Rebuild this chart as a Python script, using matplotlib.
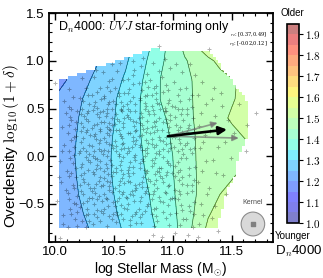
import numpy as np
import matplotlib
matplotlib.use('Agg')
import matplotlib.pyplot as plt
from matplotlib.path import Path
from matplotlib.patches import Ellipse
from matplotlib.ticker import MultipleLocator, FuncFormatter

plt.rcParams['font.family'] = ['Liberation Sans', 'DejaVu Sans']
plt.rcParams['mathtext.fontset'] = 'cm'

# ---------------- data ----------------
grid_mass = [10.0, 10.1, 10.2, 10.3, 10.4, 10.5, 10.6, 10.7, 10.8, 10.9,
             11.0, 11.1, 11.2, 11.3, 11.4, 11.5, 11.6, 11.7]
grid_delta = [-0.8, -0.6, -0.4, -0.2, 0.0, 0.2, 0.4, 0.6, 0.8, 1.0, 1.2]
dn4000_grid = [
    [1.200, 1.217, 1.233, 1.250, 1.269, 1.287, 1.305, 1.322, 1.338, 1.358, 1.384, 1.420, 1.475, 1.512, 1.525, 1.535, 1.540, 1.545],
    [1.210, 1.226, 1.243, 1.260, 1.278, 1.295, 1.312, 1.328, 1.345, 1.367, 1.390, 1.421, 1.458, 1.496, 1.515, 1.530, 1.540, 1.545],
    [1.217, 1.233, 1.250, 1.267, 1.283, 1.300, 1.317, 1.333, 1.350, 1.373, 1.395, 1.422, 1.450, 1.475, 1.500, 1.515, 1.530, 1.540],
    [1.220, 1.237, 1.253, 1.270, 1.287, 1.303, 1.321, 1.338, 1.356, 1.377, 1.398, 1.424, 1.450, 1.467, 1.483, 1.495, 1.510, 1.525],
    [1.222, 1.239, 1.255, 1.271, 1.287, 1.304, 1.322, 1.341, 1.360, 1.380, 1.400, 1.426, 1.451, 1.460, 1.469, 1.478, 1.487, 1.496],
    [1.220, 1.237, 1.253, 1.269, 1.285, 1.302, 1.323, 1.344, 1.364, 1.384, 1.405, 1.430, 1.452, 1.464, 1.476, 1.488, 1.500, 1.510],
    [1.220, 1.235, 1.250, 1.266, 1.282, 1.298, 1.321, 1.345, 1.368, 1.391, 1.413, 1.435, 1.455, 1.472, 1.490, 1.505, 1.520, 1.530],
    [1.204, 1.224, 1.244, 1.262, 1.278, 1.295, 1.318, 1.343, 1.372, 1.402, 1.419, 1.439, 1.455, 1.469, 1.482, 1.496, 1.510, 1.520],
    [1.175, 1.200, 1.225, 1.250, 1.268, 1.286, 1.306, 1.335, 1.368, 1.402, 1.421, 1.440, 1.456, 1.469, 1.481, 1.494, 1.508, 1.525],
    [1.190, 1.208, 1.223, 1.238, 1.254, 1.274, 1.294, 1.323, 1.357, 1.393, 1.420, 1.445, 1.467, 1.487, 1.514, 1.550, 1.570, 1.590],
    [1.170, 1.200, 1.217, 1.233, 1.250, 1.268, 1.286, 1.307, 1.343, 1.381, 1.423, 1.467, 1.510, 1.555, 1.577, 1.600, 1.610, 1.620],
]

# footprint of the smoothed map (where data coverage is sufficient)
coverage_mass = [10.03, 10.03, 10.88, 10.90, 11.31, 11.64, 11.64, 11.58, 11.54, 11.52, 11.46, 11.45, 11.41, 11.37]
coverage_delta = [-0.76, 0.78, 1.14, 1.10, 1.10, 0.56, 0.20, 0.07, -0.11, -0.28, -0.32, -0.42, -0.63, -0.76]

gal_mass = [
    10.00, 10.04, 10.03, 10.05, 10.02, 10.06, 10.08, 10.07, 10.09, 10.04, 10.06, 10.09, 10.08, 10.10, 10.07,
    10.12, 10.14, 10.11, 10.16, 10.13, 10.18, 10.12, 10.15, 10.19, 10.13, 10.17, 10.11, 10.15, 10.19, 10.17, 10.14, 10.20, 10.11, 10.16, 10.19, 10.13, 10.18, 10.15, 10.12, 10.19,
    10.21, 10.23, 10.25, 10.22, 10.27, 10.24, 10.29, 10.21, 10.26, 10.23, 10.28, 10.22, 10.25, 10.30, 10.24, 10.27, 10.21, 10.28, 10.23, 10.26, 10.29, 10.27, 10.22, 10.29, 10.25, 10.29, 10.26, 10.28, 10.24, 10.30, 10.21, 10.30, 10.27, 10.23, 10.29,
    10.31, 10.34, 10.32, 10.37, 10.33, 10.38, 10.35, 10.31, 10.39, 10.34, 10.36, 10.32, 10.38, 10.35, 10.31, 10.37, 10.33, 10.39, 10.36, 10.32, 10.38, 10.33, 10.36, 10.39, 10.34, 10.37, 10.32, 10.38, 10.35, 10.39, 10.34, 10.37, 10.31, 10.36, 10.39, 10.33, 10.37, 10.40, 10.35, 10.31,
    10.42, 10.45, 10.41, 10.48, 10.44, 10.46, 10.43, 10.49, 10.41, 10.47, 10.44, 10.49, 10.42, 10.46, 10.48, 10.43, 10.45, 10.41, 10.48, 10.44, 10.46, 10.41, 10.49, 10.43, 10.47, 10.42, 10.48, 10.45, 10.43, 10.47, 10.42, 10.49, 10.46, 10.44, 10.47, 10.49, 10.45, 10.41, 10.48, 10.44,
    10.51, 10.54, 10.52, 10.57, 10.53, 10.58, 10.55, 10.51, 10.59, 10.54, 10.56, 10.52, 10.58, 10.55, 10.51, 10.57, 10.53, 10.59, 10.56, 10.52, 10.58, 10.53, 10.56, 10.59, 10.54, 10.57, 10.52, 10.58, 10.55, 10.59, 10.54, 10.57, 10.51, 10.56, 10.59, 10.53, 10.57, 10.60, 10.55, 10.51,
    10.63, 10.66, 10.61, 10.68, 10.64, 10.67, 10.62, 10.69, 10.65, 10.61, 10.68, 10.63, 10.66, 10.62, 10.69, 10.64, 10.67, 10.61, 10.65, 10.69, 10.62, 10.67, 10.64, 10.61, 10.69, 10.66, 10.63, 10.67, 10.62, 10.68, 10.65, 10.63, 10.69, 10.62, 10.66, 10.64, 10.68, 10.61, 10.66, 10.69,
    10.71, 10.74, 10.72, 10.77, 10.73, 10.78, 10.75, 10.71, 10.79, 10.74, 10.76, 10.72, 10.78, 10.75, 10.71, 10.77, 10.73, 10.79, 10.76, 10.72, 10.78, 10.73, 10.76, 10.79, 10.74, 10.77, 10.72, 10.78, 10.75, 10.79, 10.74, 10.77, 10.71, 10.76, 10.79, 10.73, 10.77, 10.80, 10.75, 10.71,
    10.81, 10.84, 10.82, 10.87, 10.83, 10.88, 10.85, 10.81, 10.89, 10.84, 10.86, 10.82, 10.88, 10.85, 10.81, 10.87, 10.83, 10.89, 10.86, 10.82, 10.88, 10.83, 10.86, 10.89, 10.84, 10.87, 10.82, 10.88, 10.85, 10.89, 10.84, 10.87, 10.86, 10.88, 10.83, 10.87, 10.80, 10.84,
    10.91, 10.94, 10.92, 10.97, 10.93, 10.98, 10.95, 10.91, 10.99, 10.94, 10.96, 10.92, 10.98, 10.95, 10.91, 10.97, 10.93, 10.99, 10.96, 10.92, 10.98, 10.93, 10.96, 10.99, 10.94, 10.97, 10.92, 10.98, 10.95, 10.99, 10.94, 10.91, 10.97, 10.93, 10.90,
    11.01, 11.04, 11.02, 11.07, 11.03, 11.08, 11.05, 11.01, 11.09, 11.04, 11.06, 11.02, 11.08, 11.05, 11.01, 11.07, 11.03, 11.09, 11.06, 11.02, 11.08, 11.03, 11.06, 11.09, 11.04, 11.07, 11.05, 11.10,
    11.11, 11.14, 11.12, 11.17, 11.13, 11.18, 11.15, 11.11, 11.19, 11.14, 11.16, 11.12, 11.18, 11.15, 11.11, 11.17, 11.13, 11.19, 11.16, 11.12, 11.18, 11.15,
    11.21, 11.24, 11.22, 11.27, 11.23, 11.28, 11.25, 11.21, 11.29, 11.24, 11.26, 11.22, 11.28, 11.25, 11.21, 11.26,
    11.31, 11.33, 11.36, 11.32, 11.38, 11.34, 11.37, 11.31, 11.36, 11.33, 11.38, 11.35,
    11.42, 11.47, 11.44, 11.49, 11.43, 11.52, 11.45, 11.56, 11.41,
    11.71, 11.63, 11.62,
    10.22, 10.22, 10.22, 10.22, 10.24, 10.24, 10.24, 10.24, 10.26, 10.26, 10.26, 10.26, 10.28, 10.28, 10.28, 10.28,
    10.33, 10.33, 10.33, 10.33, 10.33, 10.36, 10.36, 10.36, 10.36, 10.36, 10.38, 10.38, 10.38, 10.38, 10.38,
    10.42, 10.42, 10.42, 10.42, 10.42, 10.44, 10.44, 10.44, 10.44, 10.44, 10.46, 10.46, 10.46, 10.46, 10.46, 10.48, 10.48, 10.48, 10.48, 10.48,
    10.52, 10.52, 10.52, 10.52, 10.52, 10.54, 10.54, 10.54, 10.54, 10.54, 10.56, 10.56, 10.56, 10.56, 10.56, 10.58, 10.58, 10.58, 10.58, 10.58,
    10.62, 10.62, 10.62, 10.62, 10.62, 10.64, 10.64, 10.64, 10.64, 10.64, 10.66, 10.66, 10.66, 10.66, 10.66, 10.68, 10.68, 10.68, 10.68, 10.68,
    10.72, 10.72, 10.72, 10.72, 10.72, 10.74, 10.74, 10.74, 10.74, 10.74, 10.76, 10.76, 10.76, 10.76, 10.76, 10.78, 10.78, 10.78, 10.78, 10.78,
    10.82, 10.82, 10.82, 10.82, 10.82, 10.84, 10.84, 10.84, 10.84, 10.84, 10.86, 10.86, 10.86, 10.86, 10.86, 10.88, 10.88, 10.88, 10.88, 10.88,
    10.92, 10.92, 10.92, 10.92, 10.94, 10.94, 10.94, 10.94, 10.96, 10.96, 10.96, 10.96, 10.98, 10.98, 10.98, 10.98,
    11.02, 11.02, 11.02, 11.02, 11.04, 11.04, 11.04, 11.04, 11.06, 11.06, 11.06, 11.06, 11.08, 11.08, 11.08, 11.08,
    11.12, 11.12, 11.12, 11.14, 11.14, 11.14, 11.16, 11.16, 11.16, 11.18, 11.18, 11.18,
    10.12, 10.12, 10.12, 10.14, 10.14, 10.14, 10.16, 10.16, 10.16, 10.18, 10.18, 10.18,
]
gal_delta = [
    0.77, -0.05, -0.22, -0.27, -0.47, 0.31, 0.12, -0.62, 0.45, -0.86, 0.05, -0.35, 0.58, -0.15, -0.71,
    0.52, 0.38, 0.24, 0.10, -0.02, -0.12, -0.21, -0.30, -0.42, -0.55, -0.66, -0.74, 0.62, 0.47, 0.29, 0.17, 0.03, -0.38, -0.49, -0.58, 0.41, 0.21, -0.07, 0.70, -0.73,
    0.61, 0.50, 0.42, 0.35, 0.28, 0.19, 0.12, 0.06, -0.01, -0.08, -0.14, -0.20, -0.27, -0.33, -0.40, -0.47, -0.53, -0.60, -0.68, -0.74, 0.55, 0.45, 0.26, 0.02, -0.18, -0.44, 0.72, 0.37, 0.09, -0.06, -0.30, 0.22, -0.55, 0.82, -0.68,
    0.64, 0.57, 0.48, 0.41, 0.33, 0.26, 0.18, 0.11, 0.05, -0.02, -0.09, -0.16, -0.22, -0.29, -0.36, -0.42, -0.50, -0.57, -0.64, -0.71, 0.72, 0.83, 0.51, 0.36, 0.23, 0.14, 0.00, -0.05, -0.13, -0.31, -0.39, -0.26, 0.30, 0.44, 0.60, -0.60, 0.08, -0.47, 0.90, -0.44,
    0.63, 0.55, 0.47, 0.40, 0.31, 0.22, 0.15, 0.09, 0.02, -0.04, -0.12, -0.17, -0.23, -0.31, -0.37, -0.44, -0.52, -0.59, -0.66, -0.73, 0.79, 0.88, 0.58, 0.42, 0.27, 0.19, 0.12, 0.05, -0.08, -0.27, -0.40, -0.48, 0.35, 0.50, 0.68, -0.60, -0.19, -0.30, 0.97, 0.73,
    0.71, 0.63, 0.55, 0.47, 0.39, 0.31, 0.23, 0.16, 0.09, 0.02, -0.05, -0.12, -0.19, -0.26, -0.33, -0.40, -0.47, -0.54, -0.61, -0.69, 0.80, 0.89, 0.57, 0.40, 0.27, 0.19, 0.06, -0.01, -0.09, -0.28, -0.36, -0.23, 0.34, 0.50, 0.66, -0.62, 0.13, -0.43, 0.98, -0.52,
    0.70, 0.62, 0.55, 0.47, 0.39, 0.32, 0.24, 0.17, 0.10, 0.03, -0.04, -0.11, -0.18, -0.26, -0.33, -0.40, -0.47, -0.55, -0.63, -0.70, 0.81, 0.90, 0.58, 0.43, 0.28, 0.20, 0.06, -0.01, -0.14, -0.30, -0.36, -0.21, 0.36, 0.50, 0.76, -0.67, 0.13, -0.44, 1.00, -0.58,
    0.77, 0.69, 0.61, 0.53, 0.45, 0.37, 0.29, 0.21, 0.14, 0.07, 0.00, -0.07, -0.15, -0.22, -0.29, -0.36, -0.43, -0.50, -0.57, -0.64, 0.86, 0.95, 0.63, 0.47, 0.33, 0.25, 0.10, 0.03, -0.05, -0.24, -0.32, -0.18, 0.40, 0.56, 0.73, -0.70, 0.17, -0.40, 1.03, -0.55,
    0.80, 0.72, 0.64, 0.56, 0.48, 0.40, 0.32, 0.24, 0.17, 0.10, 0.03, -0.04, -0.12, -0.19, -0.26, -0.33, -0.40, -0.47, -0.54, -0.61, 0.89, 0.98, 0.66, 0.50, 0.36, 0.28, 0.13, 0.06, -0.02, -0.21, -0.29, -0.15, 0.60, 1.15, -0.82, -0.68, 0.44, -0.73,
    0.83, 0.75, 0.67, 0.59, 0.51, 0.43, 0.35, 0.27, 0.20, 0.13, 0.06, -0.01, -0.09, -0.16, -0.23, -0.30, -0.37, -0.44, -0.51, -0.58, 0.92, 1.02, 0.69, 0.53, 0.39, 0.31, 0.16, 0.09, -0.05, -0.18, -0.65, -0.85, -0.72, 0.47, -0.12,
    0.78, 0.64, 0.52, 0.44, 0.33, 0.25, 0.18, 0.10, 0.02, -0.06, -0.14, -0.21, -0.29, -0.36, -0.44, -0.51, -0.59, -0.66, -0.72, -0.80, 0.88, 0.97, 0.58, 0.38, 0.28, -0.02, -0.25, 0.12,
    0.71, 0.60, 0.49, 0.40, 0.30, 0.19, 0.08, -0.02, -0.11, -0.20, -0.30, -0.39, -0.48, -0.57, -0.66, -0.74, -0.83, 0.85, 0.52, 0.14, -0.25, 0.97,
    0.64, 0.45, 0.32, 0.22, 0.09, -0.05, -0.15, -0.27, -0.40, -0.50, -0.62, -0.71, 0.55, 0.78, -0.85, 0.15,
    1.12, 0.60, 0.42, 0.26, 0.10, -0.04, -0.18, -0.33, -0.52, -0.65, -0.78, 0.72,
    0.53, 0.38, 0.15, -0.02, -0.20, 0.24, -0.40, 0.55, 0.66,
    0.45, 0.33, 0.05,
    0.44, -0.36, 0.15, -0.11, 0.31, -0.49, 0.58, -0.24, 0.05, 0.39, -0.62, 0.25, -0.29, 0.47, -0.04, 0.64,
    0.21, -0.33, 0.53, -0.19, 0.06, -0.45, 0.34, -0.03, 0.67, -0.56, 0.17, -0.12, 0.46, -0.68, 0.29,
    0.36, -0.15, 0.07, -0.55, 0.61, -0.26, 0.24, -0.45, 0.45, 0.00, 0.13, -0.35, 0.57, -0.63, 0.29, -0.09, 0.33, -0.21, 0.50, 0.81,
    0.44, -0.17, 0.11, -0.58, 0.28, -0.30, 0.37, 0.00, -0.44, 0.66, 0.21, -0.51, 0.48, -0.14, 0.08, -0.37, 0.14, -0.66, 0.53, 0.35,
    0.41, -0.18, 0.09, -0.50, 0.66, -0.27, 0.24, -0.06, 0.47, -0.72, 0.16, -0.41, 0.37, -0.11, 0.85, -0.35, 0.55, 0.01, -0.60, 0.26,
    0.35, -0.12, 0.12, -0.47, 0.59, -0.27, 0.41, -0.03, 0.22, -0.61, 0.07, -0.39, 0.49, -0.14, 0.78, -0.32, 0.30, -0.52, 0.64, 0.09,
    0.31, -0.10, 0.53, -0.45, 0.18, -0.36, 0.44, -0.07, 0.25, -0.55, 0.12, -0.25, 0.37, -0.63, 0.74, -0.43, 0.20, -0.17, 0.55, 0.02,
    0.36, -0.27, 0.08, -0.48, -0.20, 0.47, 0.20, -0.38, 0.25, -0.31, 0.56, -0.07, -0.45, 0.14, 0.38, -0.60,
    0.41, -0.10, 0.20, -0.35, -0.45, 0.06, 0.49, -0.17, 0.31, -0.40, 0.14, 0.70, -0.22, 0.50, 0.08, -0.56,
    0.25, -0.30, 0.44, -0.12, 0.33, -0.52, 0.03, -0.36, 0.64, 0.29, -0.60, 0.09,
    0.05, -0.45, 0.33, -0.18, 0.50, -0.60, 0.20, -0.33, 0.01, -0.50, 0.36, -0.22,
]

# mean gradient direction and its range
grad_origin = (10.96, 0.21)
grad_tip = (11.46, 0.28)
grad_range_tips = [(11.38, 0.35), (11.56, 0.19)]
rx_range = [0.37, 0.49]
ry_range = [-0.02, 0.12]

kernel_center = (11.68, -0.71)
kernel_size = (0.20, 0.25)

levels = np.round(np.arange(1.0, 1.951, 0.05), 2)
cbar_ticks = [1.0, 1.1, 1.2, 1.3, 1.4, 1.5, 1.6, 1.7, 1.8, 1.9]

# ---------------- figure ----------------
fig = plt.figure(figsize=(3.23, 2.78), dpi=100)
ax = fig.add_axes([0.152, 0.129, 0.693, 0.824])

X, Y = np.meshgrid(grid_mass, grid_delta)
Z = np.array(dn4000_grid)
cf = ax.contourf(X, Y, Z, levels=levels, cmap='jet', alpha=0.5, zorder=1)
ax.contour(X, Y, Z, levels=levels, colors='k', linewidths=0.5, alpha=0.6, zorder=1.1)

# white-out outside coverage footprint (rasterised like the smoothing grid)
xlim = (9.95, 11.85)
ylim = (-0.9, 1.5)
dx, dy = 0.025, 0.033
xc = np.arange(xlim[0], xlim[1] + dx, dx)
yc = np.arange(ylim[0], ylim[1] + dy, dy)
XX, YY = np.meshgrid(xc, yc)
poly = Path(np.column_stack([coverage_mass, coverage_delta]))
inside = poly.contains_points(np.column_stack([XX.ravel(), YY.ravel()])).reshape(XX.shape)
rgba = np.ones(XX.shape + (4,))
rgba[..., 3] = np.where(inside, 0.0, 1.0)
ax.imshow(rgba, origin='lower', extent=(xc[0] - dx / 2, xc[-1] + dx / 2, yc[0] - dy / 2, yc[-1] + dy / 2),
          aspect='auto', interpolation='nearest', zorder=1.5)

ax.scatter(gal_mass, gal_delta, marker='+', s=9, c='k', alpha=0.3, linewidths=0.7, zorder=2)

for tip in grad_range_tips:
    ax.annotate('', xy=tip, xytext=grad_origin,
                arrowprops=dict(arrowstyle='-|>', color='0.45', alpha=0.7, lw=1.2,
                                mutation_scale=9, shrinkA=0, shrinkB=0), zorder=3)
ax.annotate('', xy=grad_tip, xytext=grad_origin,
            arrowprops=dict(arrowstyle='-|>', color='k', lw=1.9, mutation_scale=12,
                            shrinkA=0, shrinkB=0), zorder=4)

ax.add_patch(Ellipse(kernel_center, kernel_size[0], kernel_size[1], facecolor='0.85',
                     edgecolor='0.55', lw=0.8, zorder=3))
ax.scatter([kernel_center[0]], [kernel_center[1]], marker='s', s=6, c='0.5', zorder=4)
ax.text(kernel_center[0], kernel_center[1] + 0.23, 'Kernel', fontsize=5, ha='center',
        va='center', color='0.3')

ax.text(0.04, 0.975, r'D$_n$4000: $UVJ$ star-forming only', transform=ax.transAxes,
        fontsize=9, ha='left', va='top')
ax.text(0.975, 0.905, r'$r_x$: [%.2f,%.2f]' % tuple(rx_range), transform=ax.transAxes,
        fontsize=3.6, ha='right', va='center', family='serif')
ax.text(0.975, 0.86, r'$r_y$: [%.2f,%.2f]' % tuple(ry_range), transform=ax.transAxes,
        fontsize=3.6, ha='right', va='center', family='serif')

ax.set_xlim(*xlim)
ax.set_ylim(*ylim)
ax.xaxis.set_major_locator(MultipleLocator(0.5))
ax.xaxis.set_minor_locator(MultipleLocator(0.1))
ax.yaxis.set_major_locator(MultipleLocator(0.5))
ax.yaxis.set_minor_locator(MultipleLocator(0.1))
ax.tick_params(which='both', direction='in', top=True, right=True, labelsize=9.5, pad=3)
ax.tick_params(which='major', length=5, width=1)
ax.tick_params(which='minor', length=2.5, width=0.8)
for s in ax.spines.values():
    s.set_linewidth(1.3)
ax.set_xlabel(r'log Stellar Mass (M$_{\odot}$)', fontsize=10, labelpad=1)
ax.set_ylabel(r'Overdensity $\log_{10}(1+\delta)$', fontsize=11)
ax.yaxis.set_label_coords(-0.125, 0.42)

cax = fig.add_axes([0.889, 0.198, 0.037, 0.716])
cb = fig.colorbar(cf, cax=cax, ticks=cbar_ticks)
cb.ax.yaxis.set_major_formatter(FuncFormatter(lambda v, p: r'$%.1f$' % v))
cb.ax.tick_params(labelsize=8, length=3, width=0.8, pad=1)
cb.outline.set_linewidth(1.2)
fig.text(0.905, 0.953, 'Older', ha='center', va='center', fontsize=7)
fig.text(0.907, 0.151, 'Younger', ha='center', va='center', fontsize=7)
fig.text(0.925, 0.094, r'D$_n$4000', ha='center', va='center', fontsize=9.5)

fig.savefig('out.png', dpi=100)
